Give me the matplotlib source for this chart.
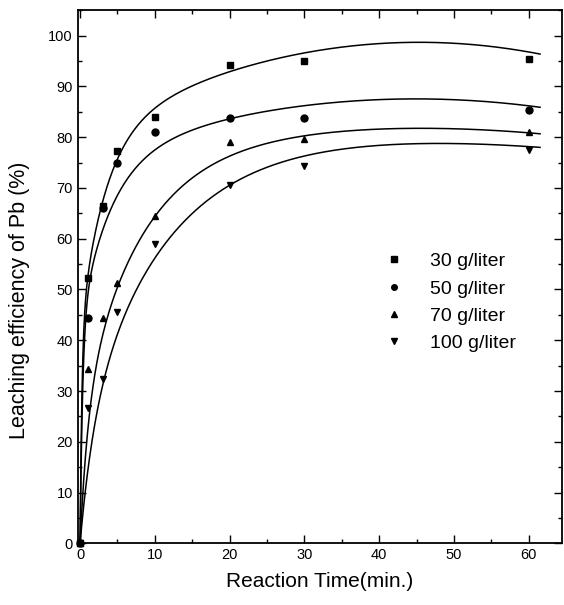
import numpy as np
import matplotlib
matplotlib.use('Agg')
import matplotlib.pyplot as plt
from matplotlib.ticker import MultipleLocator

plt.rcParams['font.family'] = ['Liberation Sans', 'DejaVu Sans']

# measured points
time = [0, 1, 3, 5, 10, 20, 30, 60]
labels = ['30 g/liter', '50 g/liter', '70 g/liter', '100 g/liter']
markers = ['s', 'o', '^', 'v']
eff_30 = [0, 52.2, 66.5, 77.2, 84.0, 94.3, 95.1, 95.5]
eff_50 = [0, 44.3, 66.0, 75.0, 81.0, 83.8, 83.8, 85.4]
eff_70 = [0, 34.4, 44.3, 51.2, 64.4, 79.0, 79.7, 81.0]
eff_100 = [0, 26.6, 32.3, 45.5, 59.0, 70.5, 74.3, 77.5]
series = [eff_30, eff_50, eff_70, eff_100]

# fitted curves (t, y)
fit_30_t = [0, 0.4, 1, 3, 5, 10, 15, 20, 30, 40, 50, 61.5]
fit_30_y = [0, 38, 52.2, 66.5, 77.2, 84.0, 89.8, 94.3, 97.2, 97.9, 97.7, 96.9]
fit_50_t = [0, 0.4, 0.9, 2, 4, 6.6, 10, 12.9, 20, 30, 40, 50, 61.5]
fit_50_y = [0, 33, 46.5, 57, 65.5, 72, 77.8, 79.8, 83.9, 86.2, 87.4, 87.2, 86.0]
fit_70_t = [0, 1, 2, 2.9, 3.6, 5.2, 7.3, 10, 20, 30, 40, 50, 61.5]
fit_70_y = [0, 22, 33, 40.5, 44.5, 51.2, 57.7, 64.5, 76.3, 80.3, 81.6, 81.6, 80.7]
fit_100_t = [0, 1.5, 3.2, 4.9, 6.2, 8.5, 12.9, 20, 30, 40, 50, 61.5]
fit_100_y = [0, 19, 32.7, 40.4, 45.9, 52.4, 62, 70.5, 76.2, 78.5, 78.7, 78.0]
fits = [(fit_30_t, fit_30_y), (fit_50_t, fit_50_y),
        (fit_70_t, fit_70_y), (fit_100_t, fit_100_y)]


def smooth(t, y):
    # y = a(1-exp(-k1 t)) + b(1-exp(-k2 t)) + c t + d t^2
    t = np.asarray(t, float)
    y = np.asarray(y, float)
    best = None
    for k1 in np.geomspace(0.1, 5.0, 50):
        for k2 in np.geomspace(0.02, 0.6, 50):
            M = np.column_stack([1 - np.exp(-k1 * t), 1 - np.exp(-k2 * t),
                                 t, t ** 2])
            coef = np.linalg.lstsq(M, y, rcond=None)[0]
            err = np.sum((M @ coef - y) ** 2)
            if best is None or err < best[0]:
                best = (err, k1, k2, coef)
    _, k1, k2, (a, b, c, d) = best
    return lambda x: (a * (1 - np.exp(-k1 * x)) + b * (1 - np.exp(-k2 * x))
                      + c * x + d * x ** 2)


fig = plt.figure(figsize=(5.64, 6.05), dpi=100)
ax = fig.add_axes([0.138, 0.102, 0.858, 0.881])

for y, (ft, fy), m, lab in zip(series, fits, markers, labels):
    f = smooth(ft, fy)
    tt = np.linspace(0, ft[-1], 500)
    ax.plot(tt, f(tt), color='black', lw=1.1)
    ax.plot(time, y, ls='none', marker=m, color='black', ms=5, label=lab,
            clip_on=False)

ax.set_xlim(-0.3, 64.4)
ax.set_ylim(0, 105)
ax.xaxis.set_major_locator(MultipleLocator(10))
ax.xaxis.set_minor_locator(MultipleLocator(5))
ax.yaxis.set_major_locator(MultipleLocator(10))
ax.yaxis.set_minor_locator(MultipleLocator(5))
ax.tick_params(which='both', direction='in', top=True, right=True,
               labelsize=10.5, width=1)
ax.tick_params(which='major', length=6)
ax.tick_params(which='minor', length=3)
for s in ax.spines.values():
    s.set_linewidth(1.3)

ax.set_xlabel('Reaction Time(min.)', fontsize=15, labelpad=7)
ax.set_ylabel('Leaching efficiency of Pb (%)', fontsize=15.5)
ax.yaxis.set_label_coords(-0.098, 0.456)

ax.legend(loc='center left', bbox_to_anchor=(0.588, 0.452), frameon=False,
          fontsize=14, markerscale=0.8, handlelength=1.5, handletextpad=1.07,
          labelspacing=0.5)

fig.savefig('out.png', dpi=100)
